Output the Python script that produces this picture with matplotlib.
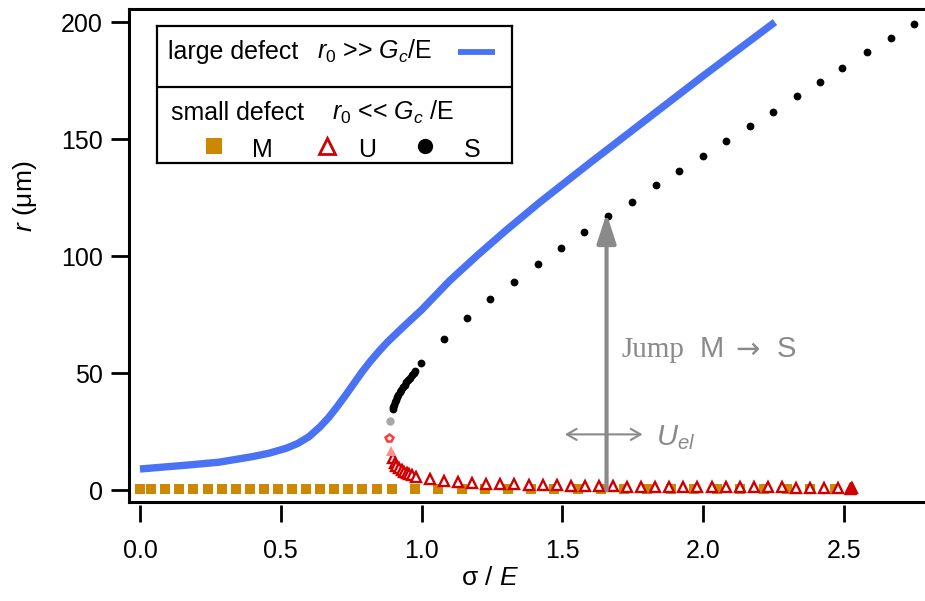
import matplotlib
matplotlib.use("Agg")
import matplotlib.pyplot as plt
from matplotlib import font_manager

# フォント設定
names = {f.name for f in font_manager.fontManager.ttflist}
narrow = 'Liberation Sans Narrow' if 'Liberation Sans Narrow' in names else 'Liberation Sans'
plt.rcParams['font.family'] = ['Liberation Sans', 'DejaVu Sans']
plt.rcParams['mathtext.fontset'] = 'custom'
plt.rcParams['mathtext.rm'] = 'Liberation Sans'
plt.rcParams['mathtext.it'] = 'Liberation Sans:italic'

# 大きな欠陥 (連続曲線)
sigma_large = [0, 0.17, 0.28, 0.40, 0.46, 0.52, 0.56, 0.60, 0.64, 0.67, 0.70, 0.73, 0.76,
               0.79, 0.82, 0.85, 0.88, 0.94, 1.00, 1.10, 1.20, 1.30, 1.42, 1.60, 1.80,
               2.00, 2.255]
r_large = [9.0, 10.7, 11.9, 14.3, 15.8, 17.9, 19.9, 22.8, 27.1, 31.0, 35.6, 40.5, 45.6,
           50.7, 55.3, 59.5, 63.4, 70.3, 77.0, 89.5, 100.5, 111.0, 123.0, 140.0, 158.5,
           177.0, 200.0]

# 小さな欠陥: M (準安定)
sigma_M = [0.0, 0.04, 0.09, 0.14, 0.19, 0.24, 0.29, 0.34, 0.39, 0.44, 0.49, 0.54, 0.59,
           0.64, 0.69, 0.74, 0.79, 0.84, 0.895, 0.977, 1.06, 1.142, 1.225, 1.308, 1.39,
           1.472, 1.555, 1.637, 1.72, 1.802, 1.885, 1.967, 2.05, 2.132, 2.215, 2.297,
           2.38, 2.47]
r_M = [0.3, 0.3, 0.3, 0.3, 0.3, 0.3, 0.3, 0.3, 0.3, 0.3, 0.3, 0.3, 0.3,
       0.3, 0.3, 0.3, 0.3, 0.3, 0.3, 0.3, 0.3, 0.3, 0.3, 0.3, 0.3,
       0.3, 0.3, 0.3, 0.3, 0.3, 0.3, 0.3, 0.3, 0.3, 0.3, 0.3,
       0.3, 0.3]

# U (不安定)
sigma_U = [0.900, 0.906, 0.911, 0.921, 0.929, 0.937, 0.947, 0.956, 0.966, 0.982, 1.03,
           1.08, 1.13, 1.18, 1.23, 1.28, 1.33, 1.38, 1.43, 1.48, 1.53, 1.58, 1.63, 1.68,
           1.73, 1.78, 1.83, 1.88, 1.93, 1.98, 2.03, 2.08, 2.13, 2.18, 2.23, 2.28, 2.33,
           2.38, 2.43, 2.48, 2.53]
r_U = [13.6, 11.4, 10.3, 9.3, 8.6, 7.8, 7.4, 6.9, 6.4, 5.7, 4.7,
       4.0, 3.4, 3.1, 2.8, 2.6, 2.4, 2.2, 2.1, 2.0, 1.9, 1.8, 1.7, 1.6,
       1.5, 1.5, 1.4, 1.4, 1.3, 1.3, 1.2, 1.2, 1.2, 1.1, 1.1, 1.1, 1.0,
       1.0, 1.0, 1.0, 0.9]

# S (安定)
sigma_S = [0.897, 0.899, 0.902, 0.906, 0.910, 0.914, 0.918, 0.923, 0.928, 0.934, 0.940,
           0.946, 0.952, 0.959, 0.966, 0.972, 0.978, 0.997, 1.081, 1.162, 1.243, 1.330,
           1.415, 1.497, 1.578, 1.663, 1.748, 1.832, 1.914, 1.998, 2.083, 2.166, 2.247,
           2.332, 2.415, 2.495, 2.581, 2.666, 2.749]
r_S = [34.5, 35.6, 36.5, 37.6, 38.7, 39.8, 40.8, 41.8, 42.9, 44.0, 45.0,
       46.0, 47.0, 48.0, 49.0, 49.9, 50.8, 54.2, 64.4, 73.7, 81.5, 89.0,
       96.5, 103.6, 110.4, 117.1, 123.0, 130.4, 136.4, 142.9, 149.3, 155.7, 161.7,
       168.4, 174.5, 180.5, 187.3, 193.3, 199.3]

# 分岐点付近の特殊マーカー
turn_gray = (0.888, 29.6)
turn_pent = (0.884, 22.1)
turn_tri = (0.890, 16.8)
end_tri = (2.52, 1.0)

# ジャンプ矢印・弾性エネルギー矢印
jump_x, jump_y0, jump_y1 = 1.657, 0.0, 118.3
uel_x0, uel_x1, uel_y = 1.509, 1.785, 23.8

xticks = [0.0, 0.5, 1.0, 1.5, 2.0, 2.5]
yticks = [0, 50, 100, 150, 200]

blue = '#4a72f5'
orange = '#cc8800'
red = '#d00000'
gray = '#8a8a8a'

fig = plt.figure(figsize=(9.25, 6.01), dpi=100)
ax = fig.add_axes([129 / 925, 1 - 502 / 601, 796 / 925, 493 / 601])
ax.set_xlim(-0.039, 2.788)
ax.set_ylim(-5.1, 205.6)

ax.plot(sigma_large, r_large, color=blue, lw=5.3, solid_capstyle='butt',
        solid_joinstyle='round', zorder=3)
ax.plot(sigma_M, r_M, 's', color=orange, ms=7.2, mew=0, zorder=2)
ax.plot(sigma_U, r_U, '^', mfc='white', mec=red, ms=7.5, mew=1.7, zorder=4)
ax.plot(*end_tri, '^', color=red, ms=8, zorder=4)
ax.plot(sigma_S, r_S, 'o', color='black', ms=5.6, mew=0, zorder=4)
ax.plot(*turn_gray, 'o', color='#a8a8a8', ms=6, mew=0, zorder=4)
ax.plot(*turn_pent, 'p', mfc='white', mec='#ff3b3b', ms=6, mew=1.8, zorder=4)
ax.plot(*turn_tri, '^', color='#ff9090', ms=7, mew=0, zorder=4)

# 矢印
ax.annotate('', xy=(jump_x, jump_y1), xytext=(jump_x, jump_y0),
            arrowprops=dict(arrowstyle='-|>,head_length=18,head_width=5.8', mutation_scale=1,
                            lw=3, color=gray, shrinkA=0, shrinkB=0), zorder=6)
ax.annotate('', xy=(uel_x1, uel_y), xytext=(uel_x0, uel_y),
            arrowprops=dict(arrowstyle='<->,head_length=7,head_width=4', mutation_scale=1,
                            lw=1.5, color=gray, shrinkA=0, shrinkB=0), zorder=6)
ax.text(1.711, 56.7, 'Jump', family='Liberation Serif', fontsize=21, color=gray,
        ha='left', va='baseline')
ax.text(1.989, 56.7, 'M', fontsize=21, color=gray, ha='left', va='baseline')
ax.text(2.114, 56.7, '→', family='DejaVu Sans', fontsize=21, color=gray,
        ha='left', va='baseline')
ax.text(2.261, 56.7, 'S', fontsize=21, color=gray, ha='left', va='baseline')
ax.text(1.834, 19.3, r'$\mathit{U_{el}}$', fontsize=21, color=gray, ha='left', va='baseline')

# 枠線と目盛り
for s in ['top', 'left']:
    ax.spines[s].set_linewidth(2.2)
ax.spines['right'].set_visible(False)
ax.spines['bottom'].set_position(('outward', 2.5))
ax.spines['bottom'].set_visible(False)
ax.plot([0, 1], [0, 0], transform=ax.transAxes, color='black', lw=2.2, clip_on=False,
        solid_capstyle='projecting', zorder=7)

ax.set_xticks(xticks)
ax.set_xticklabels([f'{v:.1f}' for v in xticks], family=narrow)
ax.set_yticks(yticks)
ax.tick_params(axis='x', direction='out', length=12.5, width=2, pad=12, labelsize=18)
ax.tick_params(axis='y', direction='out', length=13, width=2, pad=6, labelsize=18)

ax.set_xlabel(r'σ / $\mathit{E}$', fontsize=19)
ax.xaxis.set_label_coords(0.4535, -0.154)
ax.xaxis.label.set_va('center')
ax.set_ylabel(r'$\mathit{r}$ (μm)', fontsize=19)
ax.yaxis.set_label_coords(-0.1307, 0.619)
ax.yaxis.label.set_va('center')

# 凡例 (手書きの2段ボックス)
lax = fig.add_axes([157 / 925, 1 - 163 / 601, 355 / 925, 137 / 601])
lax.set_xlim(157, 512)
lax.set_ylim(163, 26)
lax.set_xticks([])
lax.set_yticks([])
for s in lax.spines.values():
    s.set_linewidth(1.6)
lax.axhline(87, color='black', lw=1.6)

lax.text(168, 59, 'large defect', fontsize=18, ha='left', va='baseline')
lax.text(317, 59, r'$\mathit{r_0}$ >> $\mathit{G_c}$/E', fontsize=18, ha='left', va='baseline')
lax.plot([458, 495], [52, 52], color=blue, lw=4.2, solid_capstyle='butt')
lax.text(171, 120, 'small defect', fontsize=18, ha='left', va='baseline')
lax.text(332, 120, r'$\mathit{r_0}$ << $\mathit{G_c}$ /E', fontsize=18, ha='left', va='baseline')

lax.plot(214, 146, 's', color=orange, ms=11.5, mew=0)
lax.text(262, 157, 'M', fontsize=18, ha='center', va='baseline')
lax.plot(327, 146, '^', mfc='white', mec=red, ms=11, mew=2)
lax.text(367, 157, 'U', fontsize=18, ha='center', va='baseline')
lax.plot(425, 146, 'o', color='black', ms=11, mew=0)
lax.text(472, 157, 'S', fontsize=18, ha='center', va='baseline')

fig.savefig('out.png', dpi=100)
